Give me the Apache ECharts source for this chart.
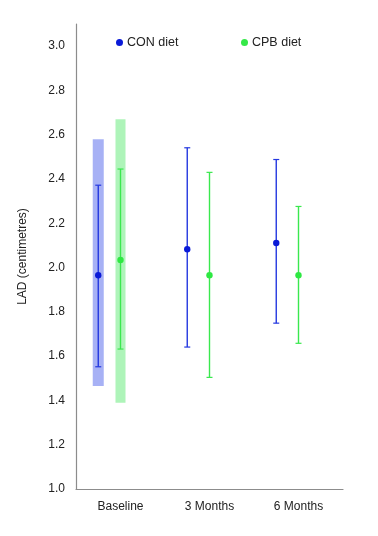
<!DOCTYPE html>
<html>
<head>
<meta charset="utf-8">
<script src="https://cdn.jsdelivr.net/npm/echarts@6/dist/echarts.min.js"></script>
<style>
  html, body { margin: 0; padding: 0; background: #fff; }
  #chart { width: 378px; height: 536px; }
</style>
</head>
<body>
<div id="chart"></div>
<script>
// categories + values
var timepoints = ['Baseline', '3 Months', '6 Months'];

var conMean = [1.965, 2.083, 2.111];
var conLow = [1.552, 1.641, 1.749];
var conHigh = [2.372, 2.541, 2.488];
// shaded range, only at baseline
var conBandLow = [1.465, null, null];
var conBandHigh = [2.579, null, null];

var cpbMean = [2.034, 1.965, 1.965];
var cpbLow = [1.632, 1.504, 1.658];
var cpbHigh = [2.445, 2.43, 2.276];
var cpbBandLow = [1.39, null, null];
var cpbBandHigh = [2.67, null, null];

function rows(mean, low, high, bLow, bHigh) {
  return timepoints.map(function (t, i) {
    return [i, mean[i], low[i], high[i], bLow[i], bHigh[i]];
  });
}

// offset = fraction of category band width, bandW in px
function makeRender(offset, lineColor, dotColor, bandColor, bandW) {
  return function (params, api) {
    var i = api.value(0);
    var step = api.size([1, 0])[0];
    var dx = offset * step;
    var pMean = api.coord([i, api.value(1)]);
    var pLow = api.coord([i, api.value(2)]);
    var pHigh = api.coord([i, api.value(3)]);
    var x = pMean[0] + dx;
    var kids = [];
    var bl = api.value(4), bh = api.value(5);
    if (!isNaN(bl) && !isNaN(bh) && bl != null) {
      var a = api.coord([i, bh]), b = api.coord([i, bl]);
      kids.push({
        type: 'rect',
        shape: { x: x - bandW / 2, y: a[1], width: bandW, height: b[1] - a[1] },
        style: { fill: bandColor }
      });
    }
    var cap = 3;
    kids.push({
      type: 'line',
      shape: { x1: x, y1: pHigh[1], x2: x, y2: pLow[1] },
      style: { stroke: lineColor, lineWidth: 1.4 }
    });
    kids.push({
      type: 'line',
      shape: { x1: x - cap, y1: pHigh[1], x2: x + cap, y2: pHigh[1] },
      style: { stroke: lineColor, lineWidth: 1.2 }
    });
    kids.push({
      type: 'line',
      shape: { x1: x - cap, y1: pLow[1], x2: x + cap, y2: pLow[1] },
      style: { stroke: lineColor, lineWidth: 1.2 }
    });
    kids.push({
      type: 'circle',
      shape: { cx: x, cy: pMean[1], r: 3.2 },
      style: { fill: dotColor }
    });
    return { type: 'group', children: kids };
  };
}

var chart = echarts.init(document.getElementById('chart'));
chart.setOption({
  animation: false,
  textStyle: { fontFamily: 'Liberation Sans, Arial, sans-serif' },
  grid: { left: 76, right: 35, top: 24, bottom: 47 },
  legend: [
    {
      data: [{ name: 'CON diet', icon: 'circle' }],
      left: 111, top: 31,
      itemWidth: 7, itemHeight: 7,
      textStyle: { fontSize: 12.5, color: '#222', padding: [0, 0, 0, -1] }
    },
    {
      data: [{ name: 'CPB diet', icon: 'circle' }],
      left: 236, top: 31,
      itemWidth: 7, itemHeight: 7,
      textStyle: { fontSize: 12.5, color: '#222', padding: [0, 0, 0, -1] }
    }
  ],
  xAxis: {
    type: 'category',
    data: timepoints,
    axisLine: { lineStyle: { color: '#8c8c8c', width: 1.2 } },
    axisTick: { show: false },
    axisLabel: { color: '#222', fontSize: 12, margin: 12 }
  },
  yAxis: {
    type: 'value',
    min: 1.0,
    max: 3.1,
    interval: 0.2,
    name: 'LAD (centimetres)',
    nameLocation: 'middle',
    nameGap: 47,
    nameTextStyle: { color: '#222', fontSize: 12 },
    axisLine: { show: true, lineStyle: { color: '#8c8c8c', width: 1.2 } },
    axisTick: { show: false },
    splitLine: { show: false },
    axisLabel: {
      color: '#222', fontSize: 12, margin: 11, showMaxLabel: false,
      formatter: function (v) { return v.toFixed(1); }
    }
  },
  series: [
    {
      name: 'CON diet',
      type: 'custom',
      itemStyle: { color: '#0a1ad8' },
      renderItem: makeRender(-0.25, '#2438e0', '#0a1ad8', 'rgba(120,135,240,0.65)', 11),
      data: rows(conMean, conLow, conHigh, conBandLow, conBandHigh),
      z: 3
    },
    {
      name: 'CPB diet',
      type: 'custom',
      itemStyle: { color: '#35e848' },
      renderItem: makeRender(0, '#3ae84e', '#2ee842', 'rgba(140,240,155,0.7)', 10),
      data: rows(cpbMean, cpbLow, cpbHigh, cpbBandLow, cpbBandHigh),
      z: 2
    }
  ]
});
</script>
</body>
</html>
